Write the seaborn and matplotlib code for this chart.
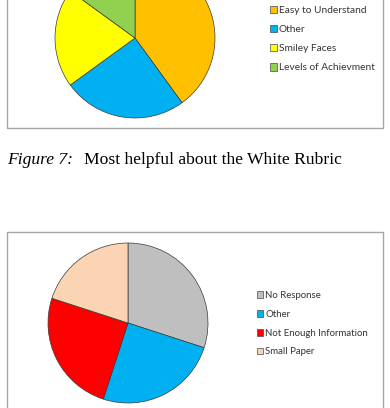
import matplotlib
matplotlib.use('Agg')
import matplotlib.pyplot as plt
import seaborn as sns
from matplotlib.patches import Rectangle, Patch

# ---- data ----
top_labels = ["Easy to Understand", "Other", "Smiley Faces", "Levels of Achievment"]
top_values = [40, 25, 20, 15]
top_colors = ["#FFC000", "#00B0F0", "#FFFF00", "#92D050"]

bottom_labels = ["No Response", "Other", "Not Enough Information", "Small Paper"]
bottom_values = [30, 25, 25, 20]
bottom_colors = ["#BFBFBF", "#00B0F0", "#FF0000", "#FBD4B4"]

caption_prefix = "Figure 7:"
caption_text = "Most helpful about the White Rubric"

sns.set_theme(style="white")
plt.rcParams['font.family'] = ['Lato', 'DejaVu Sans']

W, H = 390, 408
fig = plt.figure(figsize=(W / 100, H / 100), dpi=100)
fig.patch.set_facecolor('white')


def px_rect(x0, y0, x1, y1):
    return [x0 / W, 1 - y1 / H, (x1 - x0) / W, (y1 - y0) / H]


def draw_pie(cx, cy, r, values, colors):
    ax = fig.add_axes(px_rect(cx - r, cy - r, cx + r, cy + r))
    ax.pie(values, colors=colors, startangle=90, counterclock=False,
           wedgeprops=dict(edgecolor='#3a3a3a', linewidth=0.5))
    ax.set_xlim(-1.0, 1.0)
    ax.set_ylim(-1.0, 1.0)
    ax.axis('off')
    return ax


def draw_box(x0, y0, x1, y1):
    r = px_rect(x0, y0, x1, y1)
    fig.add_artist(Rectangle((r[0], r[1]), r[2], r[3], transform=fig.transFigure,
                             fill=False, edgecolor='#A6A6A6', linewidth=1.0))


def draw_legend(labels, colors, x, y, fs, spacing):
    handles = [Patch(facecolor=c, edgecolor='#4a4a4a', linewidth=0.5) for c in colors]
    fig.legend(handles, labels, loc='upper left', bbox_to_anchor=(x / W, 1 - y / H),
               frameon=False, fontsize=fs, handlelength=0.72, handleheight=0.72,
               handletextpad=0.2, labelspacing=spacing, borderpad=0, borderaxespad=0,
               labelcolor='#333333')


# top chart
draw_box(7, -10, 383, 128)
draw_pie(135, 38, 80, top_values, top_colors)
draw_legend(top_labels, top_colors, 269.5, 6, 7.3, 0.98)

# caption
fig.text(7 / W, 1 - 160 / H, caption_prefix, family='Liberation Serif', style='italic',
         fontsize=12.6, va='center', ha='left', color='black')
fig.text(84 / W, 1 - 160 / H, caption_text, family='Liberation Serif',
         fontsize=12.6, va='center', ha='left', color='black')

# bottom chart
draw_box(7, 232, 383, 420)
draw_pie(128, 323, 80, bottom_values, bottom_colors)
draw_legend(bottom_labels, bottom_colors, 256.5, 291, 6.9, 1.02)

fig.savefig('out.png', dpi=100, facecolor='white')
